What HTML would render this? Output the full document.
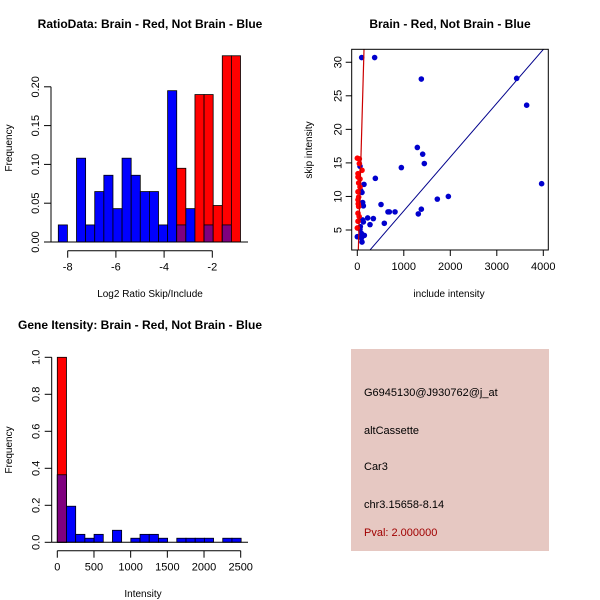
<!DOCTYPE html>
<html><head><meta charset="utf-8">
<style>
html,body{margin:0;padding:0;background:#fff;}
svg{display:block;font-family:"Liberation Sans",sans-serif;}
</style></head>
<body>
<svg id="c" width="600" height="600" viewBox="0 0 600 600">
<rect width="600" height="600" fill="#fff"/>
</svg>
<script>
// ---- Panel 1: ratio histogram ----
const ratioBinStart = -8.39;
const ratioBinWidth = 0.378;
const ratioBlue = [0.022,0,0.108,0.022,0.065,0.086,0.043,0.108,0.086,0.065,0.065,0.022,0.195,0.022,0.043,0,0.022,0,0.022,0];
const ratioRed  = [0,0,0,0,0,0,0,0,0,0,0,0,0,0.095,0,0.19,0.19,0.047,0.24,0.24];
const ratioXTicks = [-8,-6,-4,-2];
const ratioYTicks = ["0.00","0.05","0.10","0.15","0.20"];
// ---- Panel 2: scatter ----
const blueX = [94,373,1377,3427,3642,1291,1406,1441,947,388,144,72,58,3964,1958,1721,510,689,811,660,1377,1312,345,223,273,115,65,581,58,87,151,101,1,130,115,101,130,90];
const blueY = [30.7,30.7,27.5,27.6,23.6,17.3,16.3,14.9,14.3,12.7,11.8,10.9,14.5,11.9,10.0,9.6,8.8,7.7,7.7,7.7,8.1,7.4,6.7,6.8,5.8,6.5,5.5,6.0,5.1,4.5,4.2,3.2,4.0,8.6,9.1,10.6,6.2,3.8];
const redX = [1,44,15,15,29,58,15,29,15,29,15,15,1,58,101,44,20,40];
const redY = [15.7,15.6,13.4,12.9,12.0,11.4,10.7,9.9,9.5,8.5,7.5,6.3,5.3,12.6,13.9,14.9,8.9,7.0];
const redLine = [-3.4, 0.245];     // intercept, slope
const blueLine = [-0.17, 0.00802];
const scXTicks = [0,1000,2000,3000,4000];
const scYTicks = [5,10,15,20,25,30];
// ---- Panel 3: intensity histogram ----
const intBinWidth = 125.3;
const intBlue = [0.365,0.195,0.043,0.022,0.043,0,0.065,0,0.022,0.043,0.043,0.022,0,0.022,0.022,0.022,0.022,0,0.022,0.022];
const intRed  = [1.0,0,0,0,0,0,0,0,0,0,0,0,0,0,0,0,0,0,0,0];
const intXTicks = [0,500,1000,1500,2000,2500];
const intYTicks = ["0.0","0.2","0.4","0.6","0.8","1.0"];
// ---- Panel 4 text ----
const infoLines = ["G6945130@J930762@j_at","altCassette","Car3","chr3.15658-8.14"];
const pvalText = "Pval: 2.000000";

const NS="http://www.w3.org/2000/svg";
const svg=document.getElementById('c');
function mk(tag,attrs,parent){const e=document.createElementNS(NS,tag);for(const k in attrs)e.setAttribute(k,attrs[k]);(parent||svg).appendChild(e);return e;}
function txt(s,x,y,attrs,parent){const e=mk('text',Object.assign({x:x,y:y,'font-size':11,fill:'#000'},attrs||{}),parent);e.textContent=s;return e;}

function histogram(name,cfg){
  const g=mk('g',{});
  
  
  const sx=v=>cfg.x0px+(v-cfg.x0)*cfg.kx, sy=v=>cfg.y0px-v*cfg.ky;
  for(let i=0;i<cfg.blue.length;i++){
    const l=cfg.start+i*cfg.w, r=l+cfg.w;
    const b=cfg.blue[i], rd=cfg.red[i];
    if(b>0){const e=mk('rect',{x:sx(l),y:sy(b),width:sx(r)-sx(l),height:sy(0)-sy(b),fill:'#0000ff',stroke:'#000','stroke-width':0.8},g);
      }
    if(rd>0){const e=mk('rect',{x:sx(l),y:sy(rd),width:sx(r)-sx(l),height:sy(0)-sy(rd),fill:'#ff0000',stroke:'#000','stroke-width':0.8},g);
      }
    if(b>0&&rd>0){const m=Math.min(b,rd);const e=mk('rect',{x:sx(l),y:sy(m),width:sx(r)-sx(l),height:sy(0)-sy(m),fill:'#7f007f',stroke:'#000','stroke-width':0.8},g);
      }
  }
  mk('line',{x1:cfg.baseL,x2:cfg.baseR,y1:sy(0),y2:sy(0),stroke:'#000','stroke-width':1},g);
  // y axis
  const yv=cfg.yt.map(Number);
  const ax=cfg.yAxisX;
  mk('line',{x1:ax,x2:ax,y1:sy(yv[0]),y2:sy(yv[yv.length-1]),stroke:'#000'},g);
  cfg.yt.forEach(t=>{const y=sy(+t);mk('line',{x1:ax-7,x2:ax,y1:y,y2:y,stroke:'#000'},g);
    const e=txt(t,ax-12,y,{'text-anchor':'middle',transform:`rotate(-90 ${ax-12} ${y})`},g);});
  const ay=cfg.xAxisY;
  mk('line',{x1:sx(cfg.xt[0]),x2:sx(cfg.xt[cfg.xt.length-1]),y1:ay,y2:ay,stroke:'#000'},g);
  cfg.xt.forEach(t=>{const x=sx(t);mk('line',{x1:x,x2:x,y1:ay,y2:ay+7,stroke:'#000'},g);
    const e=txt(String(t),x,ay+20,{'text-anchor':'middle'},g);});
  const t=txt(cfg.title,cfg.titleX,24,{'text-anchor':'middle','font-weight':'bold','font-size':12},g);
  t.setAttribute('y',cfg.titleY);
  const xl=txt(cfg.xlab,cfg.xlabX,cfg.xlabY,{'text-anchor':'middle','font-size':10},g);
  
  const yl=txt('Frequency',12,cfg.ylabY,{'text-anchor':'middle','font-size':10,transform:`rotate(-90 12 ${cfg.ylabY})`},g);
  
}

histogram('ratio-histogram',{x0:-8,x0px:67.7,kx:24.1,y0px:242,ky:776,start:ratioBinStart,w:ratioBinWidth,
  blue:ratioBlue,red:ratioRed,yt:ratioYTicks,xt:ratioXTicks,yAxisX:51,xAxisY:250.7,baseL:50.7,baseR:248,
  title:'RatioData: Brain - Red, Not Brain - Blue',titleX:150,titleY:28,xlab:'Log2 Ratio Skip/Include',xlabX:150,xlabY:297,ylabY:148});
histogram('intensity-histogram',{x0:0,x0px:57.3,kx:0.07336,y0px:542.3,ky:185,start:0,w:intBinWidth,
  blue:intBlue,red:intRed,yt:intYTicks,xt:intXTicks,yAxisX:51.7,xAxisY:550.7,baseL:51.7,baseR:248,
  title:'Gene Itensity: Brain - Red, Not Brain - Blue',titleX:140,titleY:329,xlab:'Intensity',xlabX:143,xlabY:597,ylabY:450});

// scatter
(function(){
  const g=mk('g',{});
  
  
  const L=351.7,R=548.3,T=49.3,B=250;
  const sx=v=>357.3+v*0.0465, sy=v=>230-(v-5)*6.71;
  mk('clipPath',{id:'cp'},g).appendChild(Object.assign(document.createElementNS(NS,'rect'),{}));
  const cp=g.lastChild.firstChild;cp.setAttribute('x',L);cp.setAttribute('y',T);cp.setAttribute('width',R-L);cp.setAttribute('height',B-T);
  const pg=mk('g',{'clip-path':'url(#cp)'},g);
  const xa=-200,xb=4200;
  const bl=mk('line',{x1:sx(xa),y1:sy(blueLine[0]+blueLine[1]*xa),x2:sx(xb),y2:sy(blueLine[0]+blueLine[1]*xb),stroke:'#00008b','stroke-width':1},pg);
  
  blueX.forEach((x,i)=>{const c=mk('circle',{cx:sx(x),cy:sy(blueY[i]),r:2.8,fill:'#0000cd'},pg);
    });
  redX.forEach((x,i)=>{const c=mk('circle',{cx:sx(x),cy:sy(redY[i]),r:2.8,fill:'#ff0000'},pg);
    });
  const rl=mk('line',{x1:sx(0),y1:sy(redLine[0]),x2:sx(200),y2:sy(redLine[0]+redLine[1]*200),stroke:'#cc0000','stroke-width':1.2},pg);
  
  mk('rect',{x:L,y:T,width:R-L,height:B-T,fill:'none',stroke:'#000'},g);
  scXTicks.forEach(t=>{const x=sx(t);mk('line',{x1:x,x2:x,y1:B,y2:B+6,stroke:'#000'},g);
    const e=txt(String(t),x,B+20,{'text-anchor':'middle'},g);});
  scYTicks.forEach(t=>{const y=sy(t);mk('line',{x1:L-6,x2:L,y1:y,y2:y,stroke:'#000'},g);
    const e=txt(String(t),L-10,y,{'text-anchor':'middle',transform:`rotate(-90 ${L-10} ${y})`},g);});
  const t=txt('Brain - Red, Not Brain - Blue',450,28,{'text-anchor':'middle','font-weight':'bold','font-size':12},g);
  
  const xl=txt('include intensity',449,297,{'text-anchor':'middle','font-size':10},g);
  
  const yl=txt('skip intensity',312,150,{'text-anchor':'middle','font-size':10,transform:'rotate(-90 312 150)'},g);
  
})();

// info panel
(function(){
  const g=mk('g',{});
  
  
  mk('rect',{x:351,y:349,width:198,height:202,fill:'#e6c8c2'},g);
  const ys=[396,434,470,508];
  infoLines.forEach((s,i)=>{const e=txt(s,364,ys[i],{'font-size':11},g);
    });
  const p=txt(pvalText,364,536,{'font-size':11,fill:'#a00000'},g);
  
})();
</script>
</body></html>
